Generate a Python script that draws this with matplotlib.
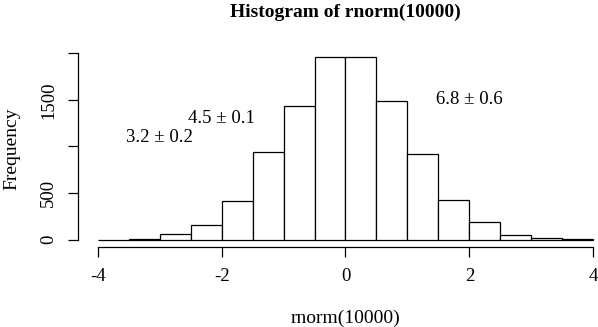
import numpy as np
import matplotlib
matplotlib.use('Agg')
import matplotlib.pyplot as plt

# bin edges and counts
breaks = np.arange(-4, 4.01, 0.5)
counts = [2, 10, 64, 153, 417, 944, 1436, 1957, 1957, 1490, 923, 424, 189, 50, 21, 3]

xticks = [-4, -2, 0, 2, 4]
yticks = [0, 500, 1000, 1500, 2000]
ytick_labels = ['0', '500', '', '1500', '']

notes = ['3.2 \u00b1 0.2', '4.5 \u00b1 0.1', '6.8 \u00b1 0.6']
note_x = [-3, -2, 2]
note_y = [1100, 1300, 1500]

plt.rcParams['font.family'] = ['Liberation Serif', 'DejaVu Serif']

W, H = 598, 327
fig = plt.figure(figsize=(W / 100, H / 100), dpi=100)
# R-style plot region (4% padding), partly past the right edge like the original
ax = fig.add_axes([78 / W, (H - 247) / H, 535 / W, 197 / H])

ax.bar(breaks[:-1], counts, width=np.diff(breaks), align='edge',
       color='white', edgecolor='black', linewidth=0.9)

ax.set_xlim(-4.32, 4.32)
ax.set_ylim(-0.04 * max(counts), 1.04 * max(counts))

for s in ['top', 'right']:
    ax.spines[s].set_visible(False)
ax.spines['left'].set_bounds(0, 2000)
ax.spines['bottom'].set_bounds(-4, 4)
for s in ['left', 'bottom']:
    ax.spines[s].set_linewidth(0.9)

ax.set_xticks(xticks)
ax.set_xticklabels([str(t) for t in xticks])
ax.set_yticks(yticks)
ax.set_yticklabels(ytick_labels, rotation=90, va='center')
ax.tick_params(length=7, width=0.9, labelsize=13.5)
ax.tick_params(axis='x', pad=8)
ax.tick_params(axis='y', pad=8)

ax.set_xlabel('rnorm(10000)', fontsize=14, labelpad=18)
ax.set_ylabel('Frequency', fontsize=14, labelpad=14)
fig.text(345.5 / W, 1 - 12 / H, 'Histogram of rnorm(10000)', ha='center', va='center',
         fontsize=14, fontweight='bold')

for t, x, y in zip(notes, note_x, note_y):
    ax.text(x, y, t, ha='center', va='center', fontsize=13.5)

fig.savefig('out.png', dpi=100)
